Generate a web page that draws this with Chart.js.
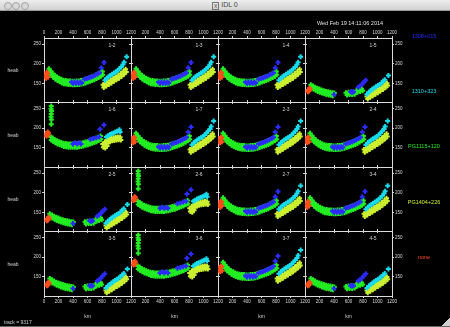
<!DOCTYPE html>
<html>
<head>
<meta charset="utf-8">
<script src="https://cdn.jsdelivr.net/npm/chart.js@4.4.1/dist/chart.umd.min.js"></script>
<style>
  html, body { margin:0; padding:0; width:450px; height:327px; overflow:hidden; background:#000; position:relative;
    font-family:'Liberation Sans Narrow','Liberation Sans',sans-serif; }
  canvas { position:absolute; }
  .lbl { position:absolute; white-space:nowrap; line-height:1; color:#ddd; }
  #titlebar { position:absolute; left:0; top:0; width:450px; height:10px; border-bottom:1px solid #9a9a9a;
    background:linear-gradient(#ededed,#d2d2d2); }
  .dot { position:absolute; top:1.5px; width:6px; height:6px; border-radius:50%; background:#d8d8d8; border:0.5px solid #a5a5a5; }
  #wintitle { position:absolute; left:0; width:450px; top:1px; text-align:center; font:7px 'Liberation Sans',sans-serif; color:#444; }
  #xicon { display:inline-block; width:5px; height:6px; border:0.5px solid #777; margin-right:2px; vertical-align:-1px; font-size:5px; line-height:6px; }
  #grip { position:absolute; right:0; bottom:1px; width:8px; height:8px; background:linear-gradient(135deg, transparent 50%, #cfcfcf 50%); }
  #bottomline { position:absolute; left:0; bottom:0; width:450px; height:1px; background:#666; }
</style>
</head>
<body>
<div id="titlebar">
  <div class="dot" style="left:3.5px"></div>
  <div class="dot" style="left:11.5px"></div>
  <div class="dot" style="left:20.5px"></div>
  <div id="wintitle"><span id="xicon">X</span>IDL 0</div>
</div>
<div id="grip"></div>
<div id="bottomline"></div>

<script>
// ---- axes / labels ----
const xTicks = [0, 200, 400, 600, 800, 1000, 1200];
const yTicks = [150, 200, 250];
const panelLabels = ['1-2','1-3','1-4','1-5', '1-6','1-7','2-3','2-4', '2-5','2-6','2-7','3-4', '3-5','3-6','3-7','4-5'];
const panelTypes  = ['U','U','U','B', 'S','U','U','U', 'B','S','U','U', 'B','S','U','B'];
const seriesNames = ['1308+015', '1310+323', 'PG1115+120', 'PG1404+226', 'none'];
const seriesColors = ['#2b2bff', '#18dcec', '#22ee22', '#ccf030', '#ff4d1a'];

// ---- series (x, y) ----
// type U : continuous curve
const blueU = [[380,153],[400,150],[420,153],[440,150],[460,153],[480,150],[500,153],[520,151],[560,160],[590,162],[620,164],
  [650,166],[680,168],[710,171],[740,174],[765,177],[790,190],[828,203]];
const cyanU = [[840,158],[865,163],[890,167],[915,170],[940,173],[965,176],[990,179],[1015,183],[1040,187],[1065,192],
  [1090,198],[1105,204],[1140,218]];
const greenU = [[70,187],[72,178],[95,181],[100,172],[120,175],[125,166],[150,170],[155,161],[180,166],[185,157],[210,163],
  [215,154],[240,160],[245,151],[270,158],[275,149],[300,157],[305,148],[330,156],[335,147],[360,156],[365,147],[390,155],
  [395,146],[420,155],[425,146],[450,156],[455,147],[480,156],[485,147],[510,157],[515,148],[540,158],[545,149],[570,160],
  [575,151],[600,162],[605,153],[630,164],[635,155],[660,166],[665,157],[690,168],[695,159],[720,171],[725,162],[750,174],
  [755,165],[780,177],[785,168],[805,180],[810,172]];
const yellowU = [[815,146],[825,139],[850,150],[860,143],[885,154],[895,147],[920,158],[930,151],[955,162],[965,155],
  [990,166],[1000,159],[1025,170],[1035,163],[1060,175],[1070,168],[1095,180],[1105,173],[1125,186],[1135,179]];
const orangeU = [[22,172],[35,168],[48,175],[55,166],[40,178],[30,163]];

// type B : lower curve with gaps
const blueB = [[400,121],[630,128],[650,127],[670,128],[735,140],[760,143],[785,147],[805,152],[838,158]];
const cyanB = [[855,122],[880,127],[905,131],[930,135],[955,138],[980,141],[1005,144],[1030,147],[1055,151],[1080,155],
  [1100,159],[1150,170]];
const greenB = [[80,146],[85,138],[110,143],[115,135],[140,140],[145,132],[170,137],[175,129],[200,135],[205,127],[230,133],
  [235,125],[260,131],[265,123],[290,129],[295,121],[320,128],[325,120],[350,127],[355,119],[380,126],[385,118],[405,125],
  [565,126],[580,120],[600,127],[615,121],[635,127],[650,121],[670,127],[685,122],
  [710,131],[725,127],[745,134],[760,129],[780,136],[795,131]];
const yellowB = [[855,116],[865,110],[890,120],[900,114],[925,124],[935,118],[960,128],[970,122],[995,132],[1005,126],
  [1030,136],[1040,130],[1065,140],[1075,134],[1100,145],[1110,139],[1130,150],[1140,144]];
const orangeB = [[45,133],[55,130],[60,137],[40,128],[70,134]];

// type S : curve with a green spike on the left
const blueS = [[400,160],[430,163],[460,160],[490,163],[510,160],[640,172],[680,174],[720,176],[760,178],[772,197],[827,208]];
const cyanS = [[860,178],[885,181],[910,184],[935,186],[960,188],[985,190],[1010,192],[1040,196],[1050,190]];
const greenS = [[100,256],[98,249],[104,243],[100,236],[97,229],[102,222],[100,210],
  [95,178],[100,170],[120,175],[125,167],[150,171],[155,163],[180,168],[185,160],[210,166],[215,158],[240,164],[245,156],
  [270,162],[275,154],[300,161],[305,153],[330,160],[335,152],[360,160],[365,152],[390,160],[395,152],[420,160],[425,152],
  [450,160],[455,152],[480,161],[485,153],[510,162],[515,154],[540,163],[545,155],[570,165],[575,157],[600,166],[605,158],
  [630,168],[635,160],[660,170],[665,162],[690,172],[695,164],[720,174],[725,166],[750,177],[755,169],[780,180],[785,172]];
const yellowS = [[810,160],[820,152],[840,165],[850,157],[870,170],[880,162],[900,173],[910,166],[930,175],[940,168],
  [960,176],[970,169],[990,177],[1000,170],[1020,178],[1030,171],[1050,177],[1060,170],[845,150],[870,155]];
const orangeS = [[40,186],[50,190],[55,182],[35,180],[60,188]];

const seriesByType = {
  U: [blueU, cyanU, greenU, yellowU, orangeU],
  B: [blueB, cyanB, greenB, yellowB, orangeB],
  S: [blueS, cyanS, greenS, yellowS, orangeS]
};

// ---- layout of the 4x4 grid ----
const M = 24;
const colLeft = [44, 131, 218, 305];
const colWidth = 87;
const rowTop = [38, 102, 167, 231];
const rowHeight = [64, 65, 64, 65];
const tickFont = { family: "'Liberation Sans Narrow','Liberation Sans',sans-serif", size: 4.5 };

function addText(txt, x, y, color, size, anchor) {
  const d = document.createElement('div');
  d.className = 'lbl';
  d.textContent = txt;
  d.style.left = x + 'px';
  d.style.top = y + 'px';
  if (color) d.style.color = color;
  d.style.fontSize = size + 'px';
  d.style.transform = anchor === 'left' ? 'translate(0,-50%)' : 'translate(-50%,-50%)';
  document.body.appendChild(d);
}

// the axis boxes take the whole margin, so chartArea == panel rectangle
function axisX(pos, showLabels, col) {
  return {
    type: 'linear', axis: 'x', position: pos, min: 0, max: 1200,
    afterBuildTicks: s => { s.ticks = xTicks.map(v => ({ value: v })); },
    afterFit: s => { s.height = M; },
    ticks: { display: showLabels, color: '#d8d8d8', font: tickFont, padding: 1, maxRotation: 0, autoSkip: false,
      callback: v => (col > 0 && v === 0) ? '' : String(v) },
    grid: { display: true, drawOnChartArea: false, drawTicks: true, tickLength: 2, color: '#cfcfcf' },
    border: { display: true, color: '#dcdcdc', dash: [2, 1], width: 1 }
  };
}

function axisY(pos, showLabels) {
  return {
    type: 'linear', axis: 'y', position: pos, min: 102, max: 266,
    afterBuildTicks: s => { s.ticks = yTicks.map(v => ({ value: v })); },
    afterFit: s => { s.width = M; },
    ticks: { display: showLabels, color: '#d8d8d8', font: tickFont, padding: 1, autoSkip: false },
    grid: { display: true, drawOnChartArea: false, drawTicks: true, tickLength: 2, color: '#cfcfcf' },
    border: { display: true, color: '#dcdcdc', dash: [2, 1], width: 1 }
  };
}

function buildPanel(idx) {
  const row = Math.floor(idx / 4), col = idx % 4;
  const w = colWidth + 2 * M, h = rowHeight[row] + 2 * M;
  const cv = document.createElement('canvas');
  cv.width = w; cv.height = h;
  cv.style.width = w + 'px'; cv.style.height = h + 'px';
  cv.style.left = (colLeft[col] - M) + 'px';
  cv.style.top = (rowTop[row] - M) + 'px';
  document.body.appendChild(cv);

  const series = seriesByType[panelTypes[idx]];
  // orange drawn last (on top), green first
  const drawOrder = [4, 0, 1, 3, 2];
  const datasets = drawOrder.map(k => ({
    data: series[k].map(([x, y]) => ({ x, y })),
    pointStyle: 'cross', pointRadius: 2.5, borderWidth: 2,
    borderColor: seriesColors[k], backgroundColor: seriesColors[k], showLine: false
  }));

  new Chart(cv, {
    type: 'scatter',
    data: { datasets },
    options: {
      responsive: false, animation: false, events: [],
      layout: { padding: 0 },
      plugins: { legend: { display: false }, tooltip: { enabled: false } },
      scales: {
        x: axisX('bottom', row === 3, col),
        xt: axisX('top', row === 0, col),
        y: axisY('left', col === 0),
        yr: axisY('right', col === 3)
      }
    }
  });

  addText(panelLabels[idx], colLeft[col] + 68, rowTop[row] + 7, '#d0d0d0', 5);
}

for (let i = 0; i < 16; i++) buildPanel(i);

// row / column titles
rowTop.forEach((t, r) => addText('heab', 13, t + rowHeight[r] / 2, '#d0d0d0', 5));
colLeft.forEach(l => addText('km', l + colWidth / 2, 316, '#d0d0d0', 5));

// legend on the right
const legendY = [37, 92, 147, 203, 258];
seriesNames.forEach((n, k) => addText(n, 424, legendY[k], seriesColors[k], 5.5));

addText('Wed Feb 19 14:11:06 2014', 350, 24, '#e0e0e0', 5.5);
addText('track = 9317', 4, 322, '#d0d0d0', 5, 'left');
</script>
</body>
</html>
